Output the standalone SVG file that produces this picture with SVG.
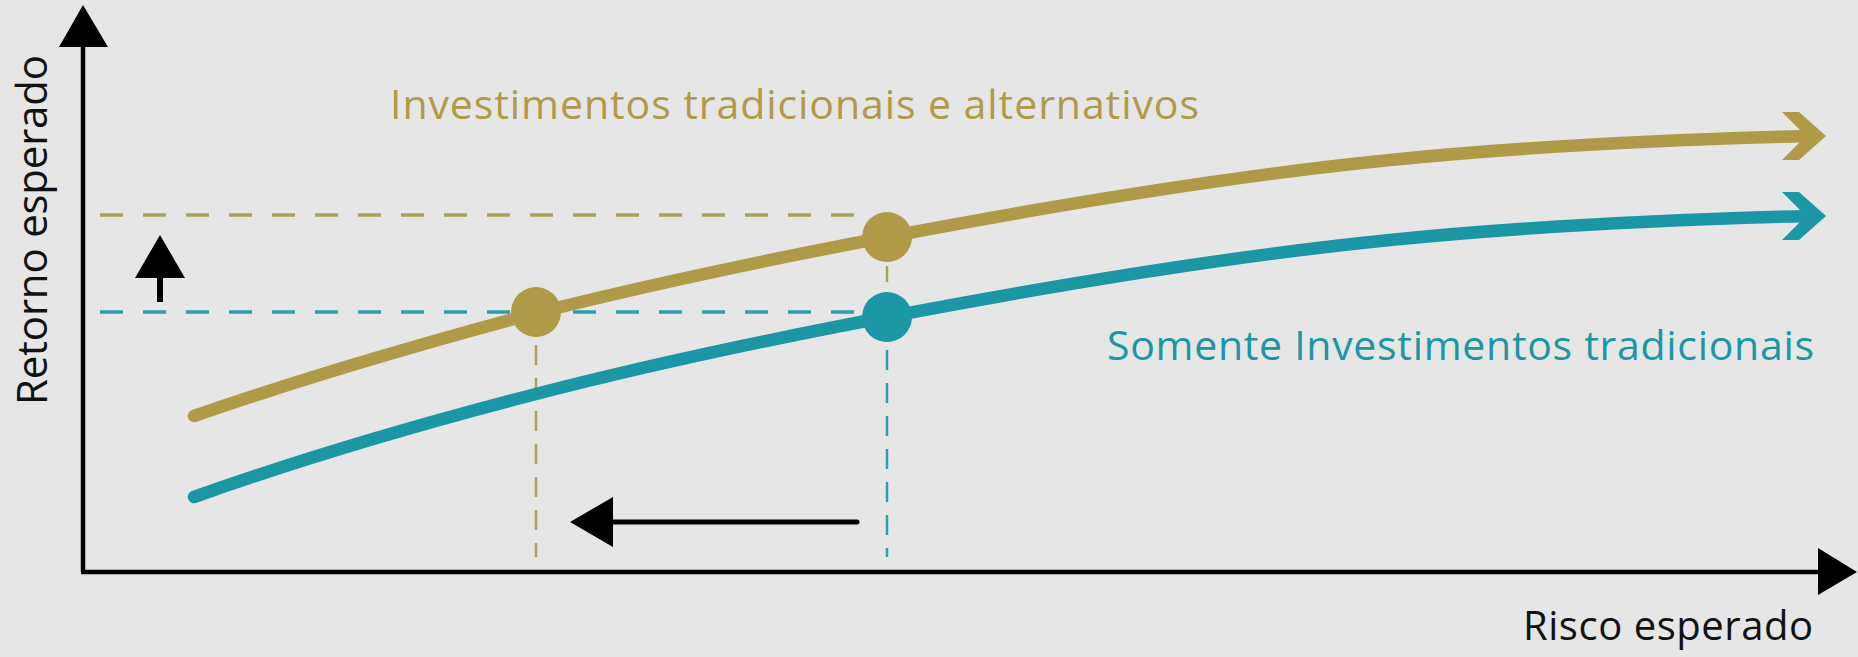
<svg xmlns="http://www.w3.org/2000/svg" width="1858" height="657" viewBox="0 0 1858 657">
  <style>
    .lbl { font-family: "Open Sans", "Liberation Sans", sans-serif; font-weight: 500; }
    .gold { fill: #B09A48; }
    .teal { fill: #1A96A5; }
    .curve { fill: none; stroke-width: 12.5; stroke-linecap: round; stroke-linejoin: round; }
    .hdash { fill: none; stroke-width: 3.5; stroke-dasharray: 23 20; }
    .vdash { fill: none; stroke-width: 2.5; stroke-dasharray: 20 13; }
    .axis { fill: none; stroke: #000; stroke-width: 4.5; }
  </style>
  <rect x="0" y="0" width="1858" height="657" fill="#E6E6E6"/>

  <g id="guides">
    <line class="hdash" x1="100" y1="215" x2="860" y2="215" stroke="#ABA05A"/>
    <line class="hdash" x1="100" y1="312" x2="860" y2="312" stroke="#2C9EAB"/>
    <line class="vdash" x1="536" y1="312" x2="536" y2="557" stroke="#ABA05A"/>
    <line class="vdash" x1="887" y1="317" x2="887" y2="557" stroke="#2C9EAB"/>
    <line x1="887" y1="266" x2="887" y2="282" stroke="#ABA05A" stroke-width="2.5"/>
  </g>

  <g id="axes">
    <line class="axis" x1="83" y1="572" x2="83" y2="40"/>
    <polygon points="83,5 108,47 59,47" fill="#000"/>
    <line class="axis" x1="81" y1="572" x2="1822" y2="572"/>
    <polygon points="1857,572 1818,548 1818,595" fill="#000"/>
  </g>

  <g id="connectors">
    <path id="curve-teal" class="curve" stroke="#1A96A5" d="M194,497 C306.7,456.9 421.3,423.7 536,394 C653,363.7 770,339.2 887,317 C1054.7,285.1 1222.3,256.8 1390,240 C1531.7,225.8 1673.3,219.3 1810,216"/>
    <polygon points="1782,192 1799,192 1826,216 1799,240 1782,240 1806,216" class="teal"/>
    <path id="curve-gold" class="curve" stroke="#B09A48" d="M194,416 C306.7,376.9 421.3,343.7 536,313 C653,283.7 770,259.2 887,237 C1054.7,205.1 1222.3,176.8 1390,160 C1531.7,145.8 1673.3,139.3 1810,136"/>
    <polygon points="1782,112 1799,112 1826,136 1799,160 1782,160 1806,136" class="gold"/>
    <g id="arrow-up">
      <line x1="160" y1="276" x2="160" y2="302" stroke="#000" stroke-width="6"/>
      <polygon points="160,235 185,278 135,278" fill="#000"/>
    </g>
    <g id="arrow-left">
      <line x1="610" y1="522" x2="857" y2="522" stroke="#000" stroke-width="5" stroke-linecap="round"/>
      <polygon points="570,522 613,497 613,547" fill="#000"/>
    </g>
  </g>

  <g id="point-gold-1"><circle cx="536" cy="312" r="25" class="gold"/></g>
  <g id="point-gold-2"><circle cx="887" cy="237" r="25" class="gold"/></g>
  <g id="point-teal"><circle cx="887" cy="317" r="25" class="teal"/></g>

  <g id="label-gold"><text class="lbl gold" x="390" y="119" font-size="41" textLength="809">Investimentos tradicionais e alternativos</text></g>
  <g id="label-teal"><text class="lbl teal" x="1107" y="360" font-size="41" textLength="707">Somente Investimentos tradicionais</text></g>
  <g id="label-x"><text class="lbl" x="1523" y="640" font-size="40" textLength="290" fill="#111">Risco esperado</text></g>
  <g id="label-y"><text class="lbl" transform="translate(47,230) rotate(-90)" text-anchor="middle" font-size="42" textLength="350" fill="#111">Retorno esperado</text></g>
</svg>
